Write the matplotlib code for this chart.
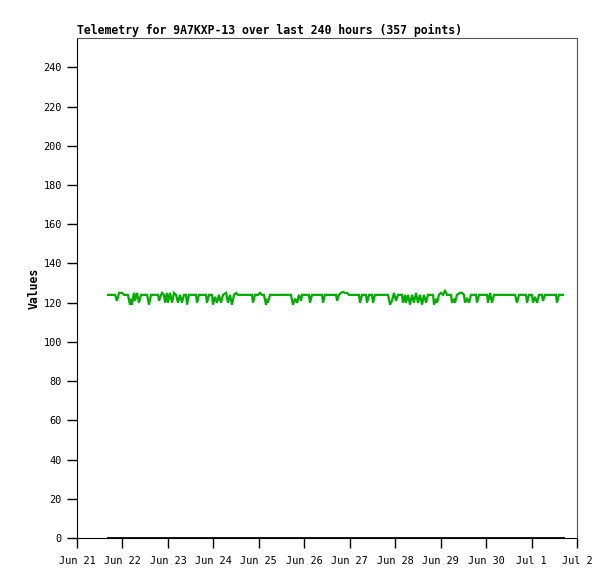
import numpy as np
import matplotlib
matplotlib.use("Agg")
import matplotlib.pyplot as plt
import matplotlib.dates as mdates
from datetime import datetime, timedelta

# hours since Jun 21 00:00 and telemetry readings
base = datetime(2023, 6, 21)

hours = [16.4, 20.1, 21.1, 22.2, 23.8, 24.8,
         26.9, 28.0, 28.5, 29.0, 30.1, 30.6, 31.7, 32.7, 33.8,
         37.0, 38.0, 39.1,
         42.8, 43.3, 44.4, 44.9, 45.9, 46.5, 47.5, 48.0, 49.1, 50.2, 51.2, 52.3, 53.3, 54.4, 55.4, 56.5,
         57.6, 58.1, 59.1,
         62.8, 63.4, 64.4,
         68.1, 68.6, 69.7,
         71.3, 71.8, 72.9, 73.9, 75.0, 76.0, 77.1,
         78.7, 79.7, 80.8, 81.8, 82.9, 84.0, 85.0,
         92.4, 92.9, 94.0, 95.6, 96.6, 97.7, 98.7, 99.8, 100.3, 100.8, 101.9,
         113.0, 114.0, 115.1, 116.2, 117.2, 118.3, 118.8,
         122.5, 123.0, 124.1,
         129.4, 129.9, 130.9,
         136.8, 137.3, 138.3, 139.4, 140.4, 141.5, 142.6, 143.6,
         148.9, 149.4, 150.5, 152.6, 153.1, 154.2, 155.8, 156.3, 157.3,
         164.2, 165.3, 166.3, 167.4, 168.4, 169.5, 171.6, 172.1, 173.2, 173.7, 174.8, 175.8,
         176.9, 177.9, 179.0, 180.0, 181.1, 182.2, 183.2, 184.3, 185.3,
         188.0, 188.5, 189.6, 190.1, 191.1, 192.2, 193.2, 194.3, 195.4, 197.5, 198.0, 199.1,
         199.6, 200.6, 202.2, 203.3, 204.3, 204.9, 205.9, 207.0, 208.0, 210.7, 211.2, 212.3,
         216.5, 217.0, 218.1, 219.1, 220.2,
         231.3, 232.3, 233.4, 237.1, 237.6, 238.7, 240.2, 240.8, 241.8, 242.9, 243.9,
         245.5, 246.0, 247.1, 252.9, 253.4, 254.5, 256.6]

values = [124, 124, 121, 125, 125, 124,
          124, 119, 122, 119, 125, 121, 125, 120, 124,
          124, 119, 124,
          124, 121, 124, 125, 124, 120, 125, 120, 125, 120, 125, 124, 120, 124, 120, 124,
          124, 119, 124,
          124, 120, 124,
          124, 120, 124,
          124, 119, 123, 120, 124, 120, 124,
          125, 120, 124, 119, 124, 125, 124,
          124, 120, 124, 124, 125, 124, 124, 119, 122, 120, 124,
          124, 119, 122, 120, 124, 121, 124,
          124, 120, 124,
          124, 120, 124,
          124, 121, 124, 125, 125.5, 125, 125, 124,
          124, 120, 124, 124, 120, 124, 124, 120, 124,
          124, 119, 121, 125, 121, 124, 124, 120, 124, 120, 124, 119,
          124, 120, 125, 120, 124, 119, 124, 120, 124,
          124, 119, 122, 120, 124, 125, 124, 126, 124, 124, 120, 122,
          120, 124, 125, 125, 124, 120, 122, 120, 124, 124, 120, 124,
          124, 120, 125, 120, 124,
          124, 120, 124, 124, 120, 124, 124, 120, 123, 120, 124,
          124, 121, 124, 124, 120, 124, 124]

zero_hours = [16.4, 256.6]
zero_values = [0, 0]

yticks = list(range(0, 241, 20))
title = "Telemetry for 9A7KXP-13 over last 240 hours (357 points)"

t = [base + timedelta(hours=h) for h in hours]
tz = [base + timedelta(hours=h) for h in zero_hours]

fig = plt.figure(figsize=(6.15, 5.79), dpi=100)
ax = fig.add_axes([77 / 615, 1 - 538 / 579, 500 / 615, 500 / 579])

ax.plot(t, values, color="#00aa00", lw=1.6, solid_joinstyle="miter")
ax.plot(tz, zero_values, color="black", lw=2.0)

ax.set_xlim(base, base + timedelta(days=11))
ax.set_ylim(0, 255)
ax.set_yticks(yticks)
ax.xaxis.set_major_locator(mdates.DayLocator())
ax.xaxis.set_major_formatter(mdates.DateFormatter("%b %-d"))

mono = "DejaVu Sans Mono"
ax.tick_params(direction="out", length=7, width=1, labelsize=7.4, pad=4)
ax.tick_params(axis="x", pad=6)
for lab in ax.get_xticklabels() + ax.get_yticklabels():
    lab.set_family(mono)

for s in ["top", "right"]:
    ax.spines[s].set_color("#555555")

ax.set_title(title, loc="left", fontsize=8.3, fontweight="bold", family=mono, pad=3)
ax.set_ylabel("Values", fontsize=8.3, fontweight="bold", family=mono, labelpad=2)

fig.savefig("out.png", dpi=100)
